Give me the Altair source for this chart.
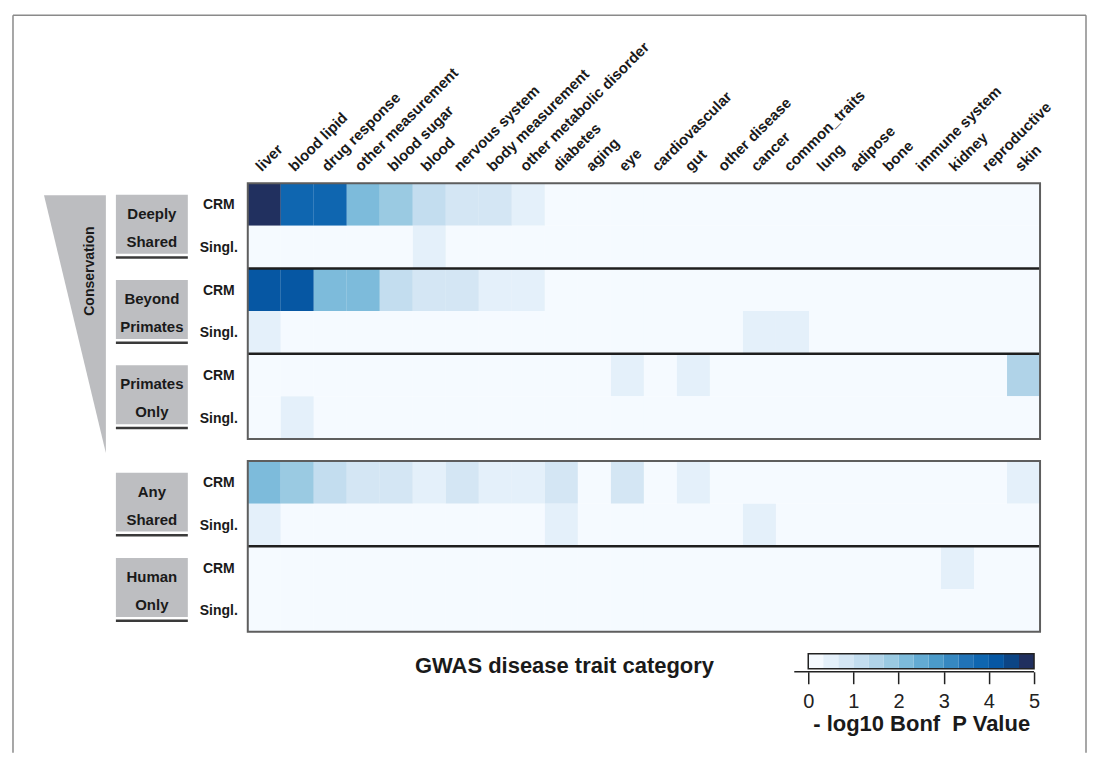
import altair as alt
import pandas as pd

traits = ["liver", "blood lipid", "drug response", "other measurement", "blood sugar",
          "blood", "nervous system", "body measurement", "other metabolic disorder",
          "diabetes", "aging", "eye", "cardiovascular", "gut", "other disease", "cancer",
          "common_traits", "lung", "adipose", "bone", "immune system", "kidney",
          "reproductive", "skin"]

row_types = ["CRM", "Singl."]
groups_top = ["Deeply Shared", "Beyond Primates", "Primates Only"]
groups_bottom = ["Any Shared", "Human Only"]
group_lines = {"Deeply Shared": "Deeply\nShared", "Beyond Primates": "Beyond\nPrimates",
               "Primates Only": "Primates\nOnly", "Any Shared": "Any\nShared",
               "Human Only": "Human\nOnly"}

# -log10 Bonferroni P value, one list per row, 24 traits each
deeply_crm     = [4.9, 3.7, 3.7, 2.2, 1.8, 1.2, 0.8, 0.8, 0.5, 0, 0, 0, 0, 0, 0, 0, 0, 0, 0, 0, 0, 0, 0, 0]
deeply_singl   = [0, 0, 0, 0, 0, 0.5, 0, 0, 0, 0, 0, 0, 0, 0, 0, 0, 0, 0, 0, 0, 0, 0, 0, 0]
beyond_crm     = [4.1, 4.1, 2.2, 2.2, 1.2, 0.8, 0.8, 0.5, 0.5, 0, 0, 0, 0, 0, 0, 0, 0, 0, 0, 0, 0, 0, 0, 0]
beyond_singl   = [0.5, 0, 0, 0, 0, 0, 0, 0, 0, 0, 0, 0, 0, 0, 0, 0.5, 0.5, 0, 0, 0, 0, 0, 0, 0]
primates_crm   = [0, 0, 0, 0, 0, 0, 0, 0, 0, 0, 0, 0.5, 0, 0.5, 0, 0, 0, 0, 0, 0, 0, 0, 0, 1.5]
primates_singl = [0, 0.5, 0, 0, 0, 0, 0, 0, 0, 0, 0, 0, 0, 0, 0, 0, 0, 0, 0, 0, 0, 0, 0, 0]
any_crm        = [2.2, 1.8, 1.2, 0.8, 0.8, 0.5, 0.8, 0.5, 0.5, 0.8, 0, 0.8, 0, 0.5, 0, 0, 0, 0, 0, 0, 0, 0, 0, 0.5]
any_singl      = [0.5, 0, 0, 0, 0, 0, 0, 0, 0, 0.5, 0, 0, 0, 0, 0, 0.5, 0, 0, 0, 0, 0, 0, 0, 0]
human_crm      = [0, 0, 0, 0, 0, 0, 0, 0, 0, 0, 0, 0, 0, 0, 0, 0, 0, 0, 0, 0, 0, 0.5, 0, 0]
human_singl    = [0, 0, 0, 0, 0, 0, 0, 0, 0, 0, 0, 0, 0, 0, 0, 0, 0, 0, 0, 0, 0, 0, 0, 0]

values_by_group = {
    "Deeply Shared": [deeply_crm, deeply_singl],
    "Beyond Primates": [beyond_crm, beyond_singl],
    "Primates Only": [primates_crm, primates_singl],
    "Any Shared": [any_crm, any_singl],
    "Human Only": [human_crm, human_singl],
}

thresholds = [0.333, 0.667, 1.0, 1.333, 1.667, 2.0, 2.333, 2.667, 3.0, 3.333, 3.667, 4.0, 4.333, 4.667]
palette = ["#f5faff", "#e4f0fa", "#d4e6f4", "#c3ddef", "#b0d3e8", "#9acae2", "#7dbbdb",
           "#63abd3", "#4b9bca", "#3688c1", "#2173b7", "#0f66b0", "#0657a3", "#0c4585", "#21305f"]
legend_ticks = [0, 1, 2, 3, 4, 5]

FONT = "Liberation Sans"
TXT = "#1a1a1a"
W = 793
color_scale = alt.Scale(type="threshold", domain=thresholds, range=palette)


def make_df(groups):
    recs = []
    for g in groups:
        for t, vals in zip(row_types, values_by_group[g]):
            for tr, v in zip(traits, vals):
                recs.append({"group": g, "type": t, "row": g + "|" + t, "trait": tr, "value": v})
    return pd.DataFrame(recs)


def heat(groups, height, top_axis):
    df = make_df(groups)
    rows = [g + "|" + t for g in groups for t in row_types]
    xaxis = alt.Axis(orient="top", title=None, ticks=False, tickSize=0, domain=False,
                     labelAngle=315, labelAlign="left", labelBaseline="middle",
                     labelPadding=15, labelOffset=-6, labelFont=FONT, labelFontSize=15,
                     labelFontWeight="bold", labelColor=TXT, labelLimit=300,
                     labelOverlap=False) if top_axis else None
    yscale = alt.Scale(domain=rows, paddingInner=0, paddingOuter=0)
    cells = alt.Chart(df).mark_rect().encode(
        x=alt.X("trait:N", sort=traits, scale=alt.Scale(domain=traits, paddingInner=0, paddingOuter=0), axis=xaxis),
        y=alt.Y("row:N", sort=rows, scale=yscale, axis=None),
        color=alt.Color("value:Q", scale=color_scale, legend=None),
    )
    rdf = pd.DataFrame({"row": rows, "type": [r.split("|")[1] for r in rows]})
    row_labels = alt.Chart(rdf).mark_text(font=FONT, fontSize=14, fontWeight="bold", color=TXT,
                                          align="center", baseline="middle", dy=1).encode(
        x=alt.value(-29), y=alt.Y("row:N", axis=None), text="type:N")
    gdf = pd.DataFrame({"group": groups,
                        "r1": [g + "|CRM" for g in groups],
                        "r2": [g + "|Singl." for g in groups],
                        "label": [group_lines[g] for g in groups]})
    boxes = alt.Chart(gdf).mark_rule(color="#bdbec1", strokeWidth=59, strokeCap="butt", yOffset=-1.5).encode(
        x=alt.value(-132), x2=alt.value(-60),
        y=alt.Y("r1:N", bandPosition=1, axis=None),
    )
    unders = alt.Chart(gdf).mark_rule(color="#3a3a3a", strokeWidth=2.5, yOffset=-11).encode(
        x=alt.value(-132), x2=alt.value(-60),
        y=alt.Y("r2:N", bandPosition=1, axis=None),
    )
    texts = alt.Chart(gdf).mark_text(font=FONT, fontSize=15, fontWeight="bold", color=TXT,
                                     lineBreak="\n", lineHeight=28, dy=-12,
                                     align="center", baseline="middle").encode(
        x=alt.value(-96),
        y=alt.Y("r1:N", bandPosition=1, axis=None),
        text="label:N",
    )
    sep = alt.Chart(gdf.iloc[:-1]).mark_rule(color="#1e1e1e", strokeWidth=2.5).encode(
        x=alt.value(0), x2=alt.value(W),
        y=alt.Y("r2:N", bandPosition=1, axis=None),
    )
    border = alt.Chart(alt.Data(values=[{"a": 1}])).mark_rect(
        fillOpacity=0, stroke="#5e5e5e", strokeWidth=2).encode(
        x=alt.value(0), x2=alt.value(W), y=alt.value(0), y2=alt.value(height))
    layers = [cells, sep, border, boxes, unders, texts, row_labels]
    if top_axis:
        one = alt.Data(values=[{"a": 1}])
        tri = alt.Chart(one).mark_point(
            shape="M -0.24 -1 L 0.24 -1 L 0.24 1 Z", size=258 * 258, filled=True,
            color="#bcbdc0", opacity=1, strokeWidth=0).encode(x=alt.value(-173), y=alt.value(141))
        cons = alt.Chart(one).mark_text(text="Conservation", angle=270, font=FONT, fontSize=14,
                                        fontWeight="bold", color=TXT, align="center",
                                        baseline="middle").encode(x=alt.value(-158), y=alt.value(88))
        frame_top = alt.Chart(one).mark_rule(color="#8a8a8a", strokeWidth=1.5).encode(
            x=alt.value(-235), x2=alt.value(839), y=alt.value(-168))
        frame_left = alt.Chart(one).mark_rule(color="#8a8a8a", strokeWidth=1.5).encode(
            x=alt.value(-235), y=alt.value(-168), y2=alt.value(570))
        frame_right = alt.Chart(one).mark_rule(color="#8a8a8a", strokeWidth=1.5).encode(
            x=alt.value(839), y=alt.value(-168), y2=alt.value(570))
        layers = [frame_top, frame_left, frame_right, tri, cons] + layers
    return alt.layer(*layers).properties(width=W, height=height)


top = heat(groups_top, 256, True)
bottom = heat(groups_bottom, 171, False)

lo = [0] + thresholds
hi = thresholds + [5]
leg_df = pd.DataFrame({"lo": lo, "hi": hi, "mid": [(a + b) / 2 for a, b in zip(lo, hi)]})
lx = alt.Scale(domain=[0, 5], range=[561, 787], nice=False, zero=False)
leg_bar = alt.Chart(leg_df).mark_rect().encode(
    x=alt.X("lo:Q", scale=lx,
            axis=alt.Axis(values=legend_ticks, format="d", tickSize=12, tickWidth=1.5,
                          tickColor="#222", domain=False, grid=False, labelFlush=False,
                          labelFont=FONT, labelFontSize=20, labelColor="#222", labelPadding=8,
                          title="- log10 Bonf\u00a0 P Value", titleFont=FONT, titleFontSize=22,
                          titleFontWeight="bold", titleColor=TXT, titlePadding=2)),
    x2="hi:Q",
    y=alt.value(0), y2=alt.value(15),
    color=alt.Color("mid:Q", scale=color_scale, legend=None),
)
one2 = alt.Data(values=[{"a": 1}])
leg_border = alt.Chart(one2).mark_rect(fillOpacity=0, stroke="#222", strokeWidth=1.5).encode(
    x=alt.datum(0), x2=alt.datum(5), y=alt.value(0), y2=alt.value(15))
leg_base = alt.Chart(one2).mark_rule(color="#222", strokeWidth=1.5).encode(
    x=alt.value(547), x2=alt.value(787), y=alt.value(18))
gwas = alt.Chart(one2).mark_text(text="GWAS disease trait category", font=FONT, fontSize=22,
                                 fontWeight="bold", color=TXT, align="center",
                                 baseline="middle").encode(x=alt.value(317), y=alt.value(12))
legend = alt.layer(leg_bar, leg_border, leg_base, gwas).properties(width=W, height=18)

chart = alt.vconcat(top, bottom, legend, spacing=22, bounds="flush").properties(
    padding={"left": 4, "top": 6, "right": 0, "bottom": 0},
    background="white",
).configure(font=FONT).configure_view(stroke="transparent", strokeWidth=0)

chart.save("out.html", embed_options={"renderer": "svg", "actions": False})
